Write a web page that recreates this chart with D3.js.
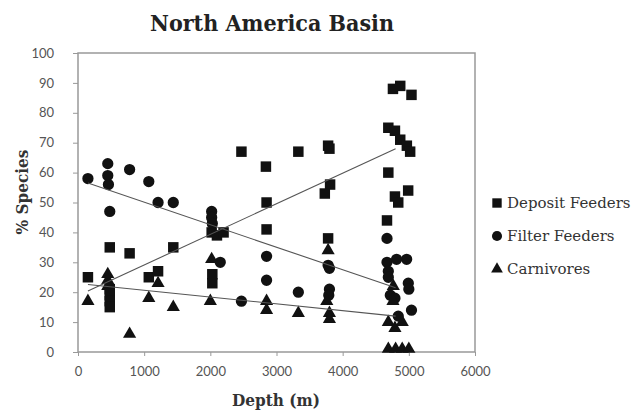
<!DOCTYPE html>
<html>
<head>
<meta charset="utf-8">
<script src="https://cdn.jsdelivr.net/npm/d3@7"></script>
<style>
  body { margin: 0; background: #fff; }
  svg { display: block; }
</style>
</head>
<body>
<div id="chart"></div>
<script>
// North America Basin - % species by depth, three feeding groups

var depositFeeders = [
  [150, 25], [480, 35], [480, 21], [480, 19], [480, 17], [480, 15],
  [780, 33], [1070, 25], [1210, 27], [1440, 35],
  [2020, 40], [2100, 39], [2200, 40], [2030, 26], [2030, 23],
  [2470, 67], [2840, 62], [2850, 50], [2850, 41], [3330, 67],
  [3780, 69], [3800, 68], [3810, 56], [3730, 53], [3780, 38],
  [4760, 88], [4870, 89], [5040, 86],
  [4690, 75], [4790, 74], [4870, 71], [4970, 69], [5020, 67],
  [4690, 60], [4790, 52], [4840, 50], [4990, 54], [4670, 44]
]

var filterFeeders = [
  [150, 58], [450, 63], [450, 59], [460, 56], [480, 47],
  [780, 61], [1070, 57], [1210, 50], [1440, 50],
  [2020, 47], [2020, 45], [2030, 43], [2150, 30], [2470, 17],
  [2850, 32], [2850, 24], [3330, 20],
  [3780, 29], [3800, 28], [3800, 21], [3790, 19],
  [4670, 38], [4670, 30], [4815, 31], [4967, 31], [4690, 27],
  [4690, 25], [4992, 23], [5000, 21], [4720, 19], [4790, 18],
  [5040, 14], [4840, 12]
]

var carnivores = [
  [150, 17], [450, 26], [450, 24], [450, 22],
  [780, 6], [1070, 18], [1210, 23], [1440, 15],
  [2000, 17], [2020, 31], [2850, 17], [2850, 14], [3330, 13],
  [3780, 34], [3760, 17], [3800, 13], [3800, 11],
  [4765, 22], [4760, 17], [4690, 10], [4790, 8], [4900, 10],
  [4690, 1], [4800, 1], [4900, 1], [5000, 1]
]

// trend lines: [depth, %] at each end
var trendDeposit = [[150, 20.4], [4800, 68]]
var trendFilter = [[150, 56.5], [4800, 21.5]]
var trendCarnivores = [[150, 22.6], [4800, 12]]

var xTicks = [0, 1000, 2000, 3000, 4000, 5000, 6000]
var yTicks = [0, 10, 20, 30, 40, 50, 60, 70, 80, 90, 100]

var seriesNames = ["Deposit Feeders", "Filter Feeders", "Carnivores"]

var W = 639, H = 415
var plotLeft = 78, plotTop = 53, plotRight = 475, plotBottom = 352
var serif = "DejaVu Serif Condensed, DejaVu Serif, serif"

var svg = d3.select("#chart").append("svg")
            .attr("width", W)
            .attr("height", H)

var x = d3.scaleLinear().domain([0, 6000]).range([plotLeft, plotRight])
var y = d3.scaleLinear().domain([0, 100]).range([plotBottom, plotTop])

// title
svg.append("text")
   .attr("x", 272).attr("y", 31)
   .attr("text-anchor", "middle")
   .attr("font-family", serif)
   .attr("font-weight", "bold")
   .attr("font-size", 23)
   .attr("fill", "#222")
   .text("North America Basin")

// axes
svg.append("g")
   .attr("transform", "translate(0," + plotBottom + ")")
   .call(d3.axisBottom(x).tickValues(xTicks).tickSize(4).tickPadding(11).tickFormat(d3.format("d")))
svg.append("g")
   .attr("transform", "translate(" + plotLeft + ",0)")
   .call(d3.axisLeft(y).tickValues(yTicks).tickSize(5).tickPadding(19))

svg.selectAll(".domain").remove()
svg.selectAll(".tick line").attr("stroke", "#999")
svg.selectAll(".tick text")
   .attr("font-family", "Lato, sans-serif")
   .attr("font-size", 13)
   .attr("fill", "#555")

// plot frame
svg.append("rect")
   .attr("x", plotLeft).attr("y", plotTop)
   .attr("width", plotRight - plotLeft).attr("height", plotBottom - plotTop)
   .attr("fill", "none")
   .attr("stroke", "#999")
   .attr("stroke-width", 1.5)

// axis titles
svg.append("text")
   .attr("x", 276).attr("y", 406)
   .attr("text-anchor", "middle")
   .attr("font-family", serif)
   .attr("font-weight", "bold")
   .attr("font-size", 17)
   .attr("fill", "#333")
   .text("Depth (m)")

svg.append("text")
   .attr("transform", "translate(28,192) rotate(-90)")
   .attr("text-anchor", "middle")
   .attr("font-family", serif)
   .attr("font-weight", "bold")
   .attr("font-size", 17)
   .attr("fill", "#333")
   .text("% Species")

// markers
var shapes = [d3.symbolSquare, d3.symbolCircle, d3.symbolTriangle]
var sizes = [110, 100, 75]
var allSeries = [depositFeeders, filterFeeders, carnivores]

allSeries.forEach(function(data, i) {
  svg.append("g").selectAll("path")
     .data(data)
     .enter().append("path")
     .attr("transform", d => "translate(" + x(d[0]) + "," + y(d[1]) + ")")
     .attr("d", d3.symbol().type(shapes[i]).size(sizes[i]))
     .attr("fill", "#111")
})

// trend lines
var line = d3.line().x(d => x(d[0])).y(d => y(d[1]))
;[trendDeposit, trendFilter, trendCarnivores].forEach(function(t) {
  svg.append("path")
     .attr("d", line(t))
     .attr("fill", "none")
     .attr("stroke", "#555")
     .attr("stroke-width", 1.1)
})

// legend
var legend = svg.append("g").attr("transform", "translate(497,203)")
seriesNames.forEach(function(name, i) {
  var g = legend.append("g").attr("transform", "translate(0," + (i * 33) + ")")
  g.append("path")
   .attr("d", d3.symbol().type(shapes[i]).size(sizes[i] * 0.8))
   .attr("fill", "#111")
  g.append("text")
   .attr("x", 10).attr("y", 5)
   .attr("font-family", "DejaVu Serif, serif")
   .attr("font-size", 15)
   .attr("fill", "#333")
   .text(name)
})
</script>
</body>
</html>
